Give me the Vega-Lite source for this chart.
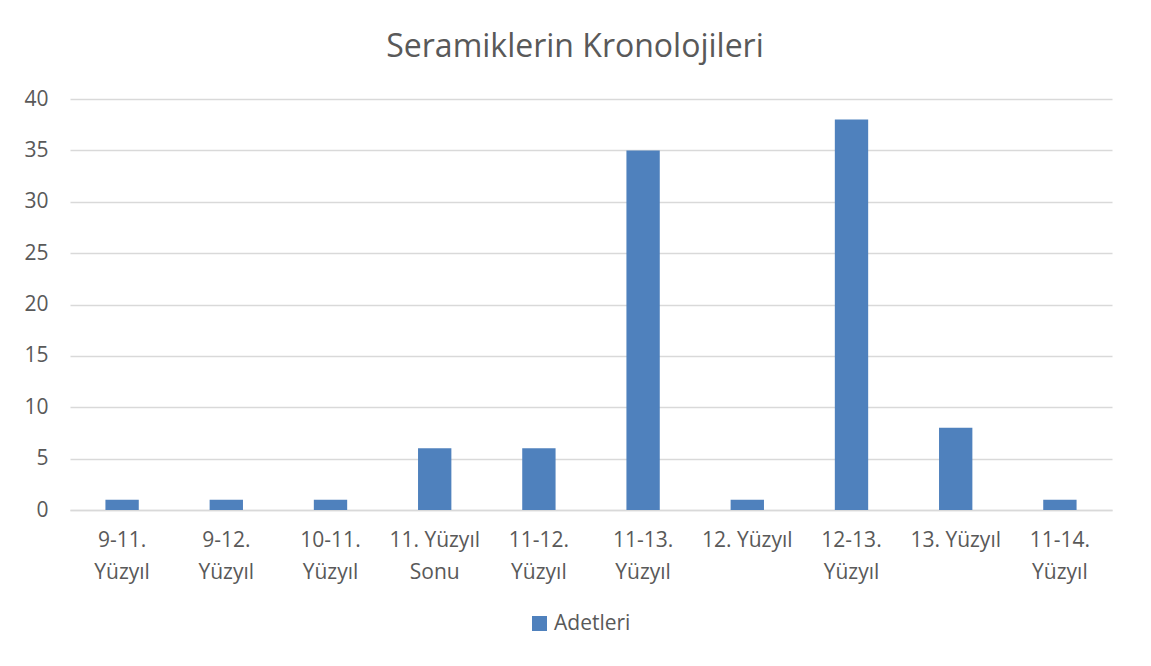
{
  "$schema": "https://vega.github.io/schema/vega-lite/v6.json",
  "width": 1042,
  "height": 411,
  "autosize": {"type": "none"},
  "padding": {"left": 70, "top": 99, "right": 39, "bottom": 156},
  "background": "white",
  "title": {
    "text": "Seramiklerin Kronolojileri",
    "font": "Open Sans",
    "fontSize": 32,
    "fontWeight": "normal",
    "color": "#595959",
    "anchor": "middle",
    "dx": -16,
    "offset": 24
  },
  "data": {
    "values": [
      {"kategori": "9-11. Yüzyıl", "seri": "Adetleri", "adet": 1},
      {"kategori": "9-12. Yüzyıl", "seri": "Adetleri", "adet": 1},
      {"kategori": "10-11. Yüzyıl", "seri": "Adetleri", "adet": 1},
      {"kategori": "11. Yüzyıl Sonu", "seri": "Adetleri", "adet": 6},
      {"kategori": "11-12. Yüzyıl", "seri": "Adetleri", "adet": 6},
      {"kategori": "11-13. Yüzyıl", "seri": "Adetleri", "adet": 35},
      {"kategori": "12. Yüzyıl", "seri": "Adetleri", "adet": 1},
      {"kategori": "12-13. Yüzyıl", "seri": "Adetleri", "adet": 38},
      {"kategori": "13. Yüzyıl", "seri": "Adetleri", "adet": 8},
      {"kategori": "11-14. Yüzyıl", "seri": "Adetleri", "adet": 1}
    ]
  },
  "mark": {"type": "bar"},
  "encoding": {
    "x": {
      "field": "kategori",
      "type": "nominal",
      "sort": null,
      "scale": {"paddingInner": 0.68, "paddingOuter": 0.34},
      "axis": {
        "title": null,
        "labelAngle": 0,
        "labelFont": "Open Sans",
        "labelFontSize": 21,
        "labelColor": "#595959",
        "labelPadding": 19,
        "labelLineHeight": 32,
        "labelBaseline": "top",
        "ticks": false,
        "tickSize": 0,
        "domain": true,
        "domainColor": "#D9D9D9",
        "domainWidth": 1.5,
        "grid": false,
        "labelExpr": "datum.value == '11. Yüzyıl Sonu' ? ['11. Yüzyıl', 'Sonu'] : (indexof(datum.value, '-') >= 0 ? split(datum.value, ' ') : datum.value)"
      }
    },
    "y": {
      "field": "adet",
      "type": "quantitative",
      "scale": {"domain": [0, 40], "nice": false},
      "axis": {
        "title": null,
        "values": [0, 5, 10, 15, 20, 25, 30, 35, 40],
        "labelFont": "Open Sans",
        "labelFontSize": 21,
        "labelColor": "#595959",
        "labelPadding": 22,
        "ticks": false,
        "tickSize": 0,
        "domain": false,
        "grid": true,
        "gridColor": "#D9D9D9",
        "gridWidth": 1.5
      }
    },
    "color": {
      "field": "seri",
      "type": "nominal",
      "scale": {"range": ["#4F81BD"]},
      "legend": {
        "title": null,
        "orient": "none",
        "legendX": 459,
        "legendY": 514,
        "direction": "horizontal",
        "padding": 0,
        "symbolType": "square",
        "symbolSize": 225,
        "symbolStrokeWidth": 0,
        "symbolOpacity": 1,
        "labelFont": "Open Sans",
        "labelFontSize": 21,
        "labelColor": "#595959",
        "labelOffset": 4
      }
    }
  },
  "config": {
    "view": {"stroke": null}
  }
}
